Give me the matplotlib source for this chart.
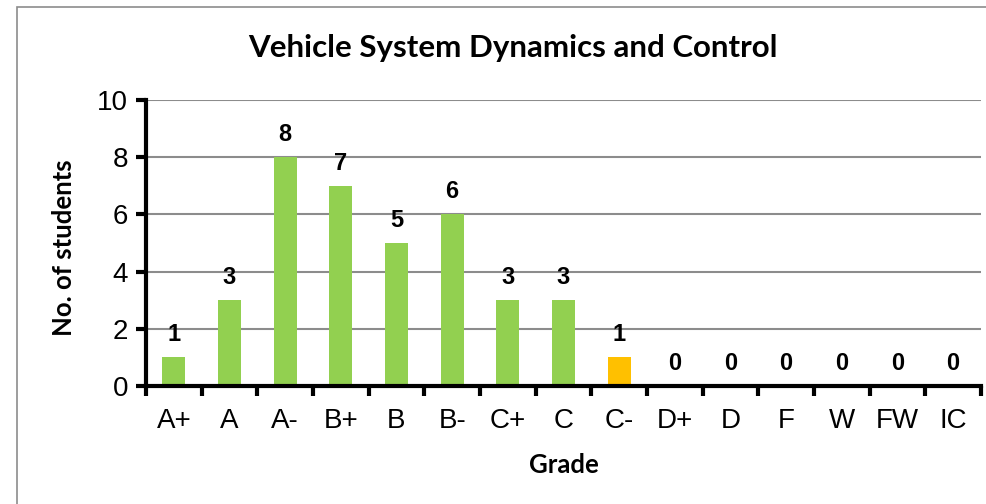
import matplotlib
matplotlib.use("Agg")
import matplotlib.pyplot as plt
from matplotlib.patches import Rectangle

# grade distribution
grades = ["A+", "A", "A-", "B+", "B", "B-", "C+", "C", "C-",
          "D+", "D", "F", "W", "FW", "IC"]
students = [1, 3, 8, 7, 5, 6, 3, 3, 1, 0, 0, 0, 0, 0, 0]
# C- is highlighted in orange
highlight = ["C-"]

title = "Vehicle System Dynamics and Control"
x_label = "Grade"
y_label = "No. of students"
y_ticks = [0, 2, 4, 6, 8, 10]

GREEN = "#92D050"
ORANGE = "#FFC000"
ARIAL = "Liberation Sans"
CALIBRI = "Lato"

fig = plt.figure(figsize=(9.87, 5.04), dpi=100)
ax = fig.add_axes([146/987, 1 - 386/504, (981 - 146)/987, (386 - 100)/504])

x = list(range(len(grades)))
colors = [ORANGE if g in highlight else GREEN for g in grades]
ax.bar(x, students, width=0.41, color=colors, zorder=2)

# value labels above each bar
for xi, v in zip(x, students):
    ax.annotate(str(v), (xi, v), xytext=(0, 11.5), textcoords="offset points",
                ha="center", va="baseline", fontsize=17, fontweight="bold",
                family=ARIAL, zorder=3)

ax.set_xlim(-0.5, len(grades) - 0.5)
ax.set_ylim(0, 10)
ax.set_yticks(y_ticks)
ax.set_yticklabels([str(t) for t in y_ticks], family=ARIAL, fontsize=20)

# category labels centred, tick marks between categories
ax.set_xticks([i - 0.5 for i in range(len(grades) + 1)])
ax.set_xticklabels([])
ax.set_xticks(x, minor=True)
ax.set_xticklabels(grades, minor=True, family=ARIAL, fontsize=20)
ax.tick_params(axis="x", which="minor", length=0, pad=16)
ax.tick_params(axis="x", which="major", length=7, width=3, direction="out")
ax.tick_params(axis="y", length=7, width=3, direction="out", pad=6)

ax.grid(axis="y", color="#8c8c8c", linewidth=1.5, zorder=0)
ax.set_axisbelow(True)
for s in ["top", "right"]:
    ax.spines[s].set_visible(False)
for s in ["left", "bottom"]:
    ax.spines[s].set_linewidth(3)
    ax.spines[s].set_capstyle("projecting")

fig.text(564/987, 1 - 465/504, x_label, ha="center", va="center",
         family=CALIBRI, fontweight="bold", fontsize=18.5)
fig.text(64/987, 1 - 248/504, y_label, ha="center", va="center", rotation=90,
         family=CALIBRI, fontweight="bold", fontsize=18.5)
fig.text(513/987, 1 - 48/504, title, ha="center", va="center",
         family=CALIBRI, fontweight="bold", fontsize=22.5)

# chart area border (only left and top edges are inside the image)
fig.patches.append(Rectangle((17/987, -0.1), 1.1, 1 - 7/504 + 0.1,
                             transform=fig.transFigure, fill=False,
                             edgecolor="#8c8c8c", linewidth=1.2))

fig.savefig("out.png", dpi=100)
